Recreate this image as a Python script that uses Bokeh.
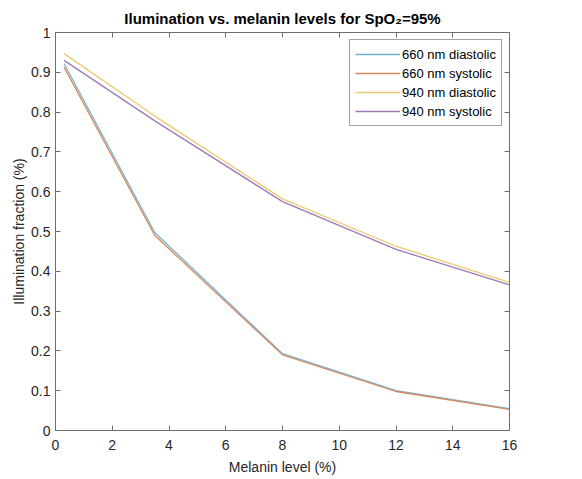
from bokeh.plotting import figure
from bokeh.models import LinearAxis, Range1d, FixedTicker, Legend, LegendItem, Title
from bokeh.embed import file_html
from bokeh.resources import INLINE

# ---- data ----
melanin = [0.3, 3.5, 8, 12, 16]
d660 = [0.922, 0.497, 0.193, 0.100, 0.055]
s660 = [0.913, 0.490, 0.190, 0.098, 0.053]
d940 = [0.947, 0.790, 0.582, 0.463, 0.372]
s940 = [0.930, 0.778, 0.575, 0.455, 0.366]
series_names = ["660 nm diastolic", "660 nm systolic", "940 nm diastolic", "940 nm systolic"]
series_colors = ["#73b2d8", "#d88a5e", "#eccb6e", "#9c7bb5"]
x_ticks = [0, 2, 4, 6, 8, 10, 12, 14, 16]
y_ticks = [0, 0.1, 0.2, 0.3, 0.4, 0.5, 0.6, 0.7, 0.8, 0.9, 1]
y_tick_labels = ["0", "0.1", "0.2", "0.3", "0.4", "0.5", "0.6", "0.7", "0.8", "0.9", "1"]
title_text = "Ilumination vs. melanin levels for SpO\u2082=95%"

FONT = "Liberation Sans"
TXT = "#262626"
AX = "#6e6e6e"

p = figure(frame_width=454, frame_height=398,
           x_range=Range1d(0, 16), y_range=Range1d(0, 1),
           output_backend="svg", toolbar_location=None,
           min_border_left=55, min_border_right=57,
           min_border_top=32, min_border_bottom=41,
           background_fill_color="white", border_fill_color="white")
p.outline_line_color = AX
p.grid.visible = False

for ax in [p.xaxis[0], p.yaxis[0]]:
    ax.major_tick_in = 5
    ax.major_tick_out = 0
    ax.minor_tick_line_color = None
    ax.axis_line_color = AX
    ax.major_tick_line_color = AX
    ax.major_label_text_font = FONT
    ax.major_label_text_font_size = "14px"
    ax.major_label_text_color = TXT
    ax.axis_label_text_font = FONT
    ax.axis_label_text_font_size = "14px"
    ax.axis_label_text_font_style = "normal"
    ax.axis_label_text_color = TXT

p.xaxis[0].ticker = FixedTicker(ticks=x_ticks)
p.yaxis[0].ticker = FixedTicker(ticks=y_ticks)
p.yaxis[0].major_label_overrides = {v: s for v, s in zip(y_ticks, y_tick_labels)}
p.xaxis[0].axis_label = "Melanin level (%)"
p.yaxis[0].axis_label = "Illumination fraction (%)"
p.xaxis[0].major_label_standoff = 9
p.yaxis[0].major_label_standoff = 5
p.xaxis[0].axis_label_standoff = 6
p.yaxis[0].axis_label_standoff = 1

top = LinearAxis(ticker=FixedTicker(ticks=x_ticks), major_tick_in=5, major_tick_out=0,
                 minor_tick_line_color=None, major_label_text_color=None,
                 major_label_text_font_size="10px",
                 axis_line_color=AX, major_tick_line_color=AX, major_label_standoff=0)
right = LinearAxis(ticker=FixedTicker(ticks=y_ticks), major_tick_in=5, major_tick_out=0,
                   minor_tick_line_color=None, major_label_text_color=None,
                   major_label_text_font_size="10px",
                   axis_line_color=AX, major_tick_line_color=AX, major_label_standoff=0)
p.add_layout(top, "above")
p.add_layout(right, "right")

t = Title(text=title_text, align="center",
          text_font=FONT, text_font_size="15px", text_font_style="bold",
          text_color="black", standoff=12)
p.add_layout(t, "above")

items = []
for name, col, ys in zip(series_names, series_colors, [d660, s660, d940, s940]):
    r = p.line(melanin, ys, line_color=col, line_width=1.3)
    items.append(LegendItem(label=name, renderers=[r]))

legend = Legend(items=items, location="top_right",
                label_text_font=FONT, label_text_font_size="13px", label_text_color="black",
                glyph_width=45, glyph_height=18, label_height=18, spacing=1,
                padding=5, margin=7, label_standoff=2,
                border_line_color="#444444", border_line_width=0.8,
                background_fill_color="white", background_fill_alpha=1)
p.add_layout(legend)

open("out.html", "w").write(file_html(p, INLINE))
